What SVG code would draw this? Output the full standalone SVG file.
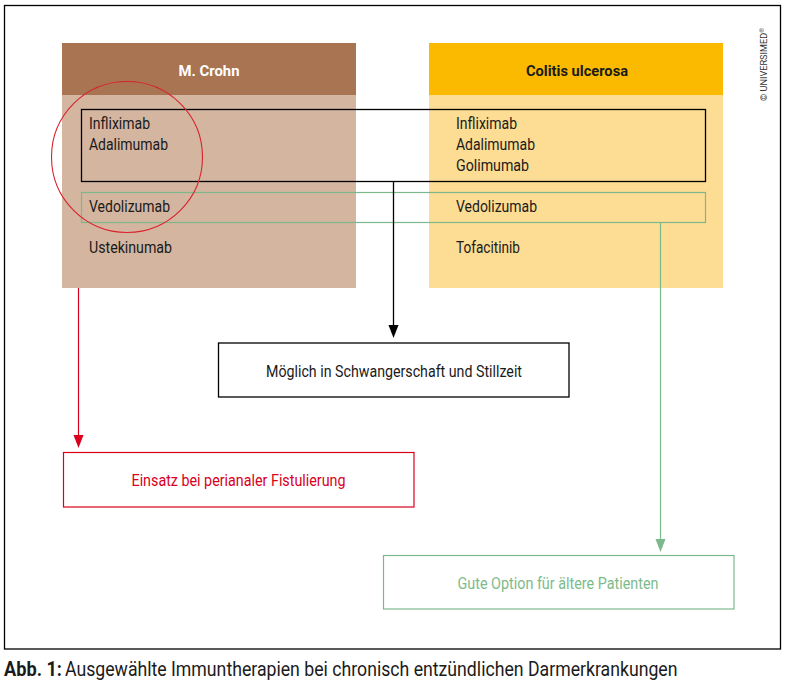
<svg xmlns="http://www.w3.org/2000/svg" width="788" height="687" viewBox="0 0 788 687">
  <defs>
    <style>
      text { font-family: Roboto, "Liberation Sans", sans-serif; }
      .drug { font-size: 16px; fill: #1a1a1a; }
      .head { font-size: 15.5px; font-weight: bold; text-anchor: middle; }
      .lbl { font-size: 16px; text-anchor: middle; }
      .frame { fill: none; stroke: #000; stroke-width: 1.3; }
    </style>
  </defs>
  <rect x="0" y="0" width="788" height="687" fill="#fff"/>
  <rect class="frame" x="4.5" y="5.5" width="776" height="643.5"/>

  <g id="node-crohn">
    <rect x="62" y="43" width="294" height="245" fill="#D4B59F"/>
    <rect x="62" y="43" width="294" height="52" fill="#A97452"/>
    <text class="head" x="209" y="76" fill="#fff" textLength="61" lengthAdjust="spacingAndGlyphs">M. Crohn</text>
    <text class="drug" x="89" y="129" textLength="61" lengthAdjust="spacingAndGlyphs">Infliximab</text>
    <text class="drug" x="89" y="150" textLength="79" lengthAdjust="spacingAndGlyphs">Adalimumab</text>
    <text class="drug" x="89" y="211.5" textLength="81" lengthAdjust="spacingAndGlyphs">Vedolizumab</text>
    <text class="drug" x="89" y="252.5" textLength="83" lengthAdjust="spacingAndGlyphs">Ustekinumab</text>
  </g>

  <g id="node-colitis">
    <rect x="429" y="43" width="294" height="245" fill="#FDDC93"/>
    <rect x="429" y="43" width="294" height="52" fill="#FBBA00"/>
    <text class="head" x="577" y="76" fill="#1a1a1a" textLength="102" lengthAdjust="spacingAndGlyphs">Colitis ulcerosa</text>
    <text class="drug" x="456" y="129" textLength="61" lengthAdjust="spacingAndGlyphs">Infliximab</text>
    <text class="drug" x="456" y="150" textLength="79" lengthAdjust="spacingAndGlyphs">Adalimumab</text>
    <text class="drug" x="456" y="170.5" textLength="73" lengthAdjust="spacingAndGlyphs">Golimumab</text>
    <text class="drug" x="456" y="211.5" textLength="81" lengthAdjust="spacingAndGlyphs">Vedolizumab</text>
    <text class="drug" x="456" y="252.5" textLength="64" lengthAdjust="spacingAndGlyphs">Tofacitinib</text>
  </g>

  <g id="group-antiTNF">
    <rect x="81.5" y="109.5" width="624" height="72" fill="none" stroke="#000" stroke-width="1.3"/>
  </g>
  <g id="group-vedolizumab">
    <rect x="81.5" y="192.5" width="624" height="30" fill="none" stroke="#7DB88C" stroke-width="1.2"/>
  </g>
  <g id="group-circle">
    <circle cx="127" cy="157" r="75.5" fill="none" stroke="#D9232E" stroke-width="1.1"/>
  </g>

  <g id="connectors">
    <line x1="393.5" y1="181.5" x2="393.5" y2="326" stroke="#000" stroke-width="1.3"/>
    <path d="M388.5,325 L398.5,325 L393.5,338 Z" fill="#000"/>
    <line x1="78.5" y1="288" x2="78.5" y2="436" stroke="#D9001B" stroke-width="1.2"/>
    <path d="M73.5,435 L83.5,435 L78.5,448 Z" fill="#D9001B"/>
    <line x1="660.5" y1="222.5" x2="660.5" y2="540" stroke="#7DB88C" stroke-width="1.2"/>
    <path d="M655.5,539 L665.5,539 L660.5,552 Z" fill="#7DB88C"/>
  </g>

  <g id="node-pregnancy">
    <rect x="218.5" y="343" width="350.5" height="54" fill="#fff" stroke="#000" stroke-width="1.3"/>
    <text class="lbl" x="394" y="377" fill="#1a1a1a" textLength="256" lengthAdjust="spacingAndGlyphs">Möglich in Schwangerschaft und Stillzeit</text>
  </g>
  <g id="node-fistula">
    <rect x="63.5" y="452.5" width="350.5" height="54.5" fill="#fff" stroke="#D9001B" stroke-width="1.2"/>
    <text class="lbl" x="238.5" y="486" fill="#D9001B" textLength="214" lengthAdjust="spacingAndGlyphs">Einsatz bei perianaler Fistulierung</text>
  </g>
  <g id="node-elderly">
    <rect x="383.5" y="555.5" width="350.5" height="53.5" fill="#fff" stroke="#7DB88C" stroke-width="1.2"/>
    <text class="lbl" x="558" y="589" fill="#7DBB8B" textLength="201" lengthAdjust="spacingAndGlyphs">Gute Option für ältere Patienten</text>
  </g>

  <text x="767" y="101" transform="rotate(-90 767 101)" font-size="9" fill="#333" textLength="73" lengthAdjust="spacingAndGlyphs">© UNIVERSIMED<tspan font-size="6" dy="-3">®</tspan></text>

  <text x="4" y="676" font-size="20" font-weight="bold" fill="#1a1a1a" textLength="58" lengthAdjust="spacingAndGlyphs">Abb. 1:</text>
  <text x="65" y="676" font-size="20" fill="#1a1a1a" textLength="612.5" lengthAdjust="spacingAndGlyphs">Ausgewählte Immuntherapien bei chronisch entzündlichen Darmerkrankungen</text>
</svg>
